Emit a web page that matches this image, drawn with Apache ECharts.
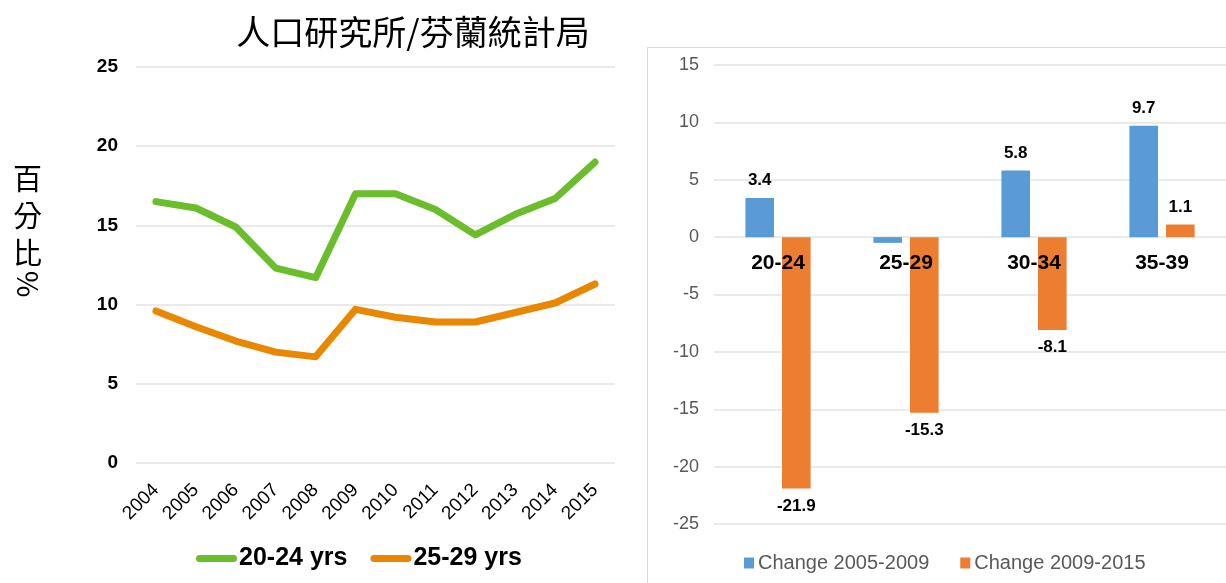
<!DOCTYPE html>
<html>
<head>
<meta charset="utf-8">
<script src="https://cdn.jsdelivr.net/npm/echarts@6/dist/echarts.min.js"></script>
<style>
  html, body { margin: 0; padding: 0; background: #fff; }
  #chart { width: 1226px; height: 583px; }
</style>
</head>
<body>
<div id="chart"></div>
<script>
// left chart: share of age groups (%)
const years = ['2004', '2005', '2006', '2007', '2008', '2009', '2010', '2011', '2012', '2013', '2014', '2015']
const age2024 = [16.5, 16.1, 14.9, 12.3, 11.7, 17.0, 17.0, 16.0, 14.4, 15.7, 16.7, 19.0]
const age2529 = [9.6, 8.6, 7.7, 7.0, 6.7, 9.7, 9.2, 8.9, 8.9, 9.5, 10.1, 11.3]

// right chart: change by age group
const groups = ['20-24', '25-29', '30-34', '35-39']
const change0509 = [3.4, -0.5, 5.8, 9.7]
const change0915 = [-21.9, -15.3, -8.1, 1.1]
const hiddenLabels = ['25-29'] // no label on the tiny blue bar

const FONT = '"Liberation Sans", Arial, sans-serif'
const CJK = '"Noto Sans CJK TC", "Noto Sans CJK SC", sans-serif'
// capsule shaped legend mark for the line series
const LINE_ICON = 'path://M3.5,0 L37.5,0 A3.5,3.5 0 0 1 37.5,7 L3.5,7 A3.5,3.5 0 0 1 3.5,0 Z'

const chart = echarts.init(document.getElementById('chart'))

const barLabel = {
  show: true,
  position: 'outside',
  distance: 9,
  color: '#000',
  fontFamily: FONT,
  fontWeight: 'bold',
  fontSize: 17,
  formatter: p => p.value.toFixed(1)
}

const option = {
  animation: false,
  backgroundColor: '#fff',
  title: {
    text: '人口研究所/芬蘭統計局',
    left: 408,
    top: 10,
    textAlign: 'center',
    textStyle: { fontFamily: CJK, fontWeight: 'normal', fontSize: 34, color: '#000' }
  },
  graphic: [
    {
      type: 'rect',
      shape: { x: 647.5, y: 47.5, width: 700, height: 700 },
      style: { fill: 'none', stroke: '#D9D9D9', lineWidth: 1 },
      z: -1
    },
    {
      type: 'text',
      left: 13,
      top: 160,
      style: { text: '百\n分\n比', font: '29px ' + CJK, lineHeight: 37, fill: '#000' }
    },
    {
      type: 'text',
      x: 28,
      y: 284,
      rotation: -Math.PI / 2,
      style: { text: '%', font: '29px ' + CJK, fill: '#000', align: 'center', verticalAlign: 'middle' }
    }
  ],
  legend: [
    {
      data: ['20-24 yrs', '25-29 yrs'],
      left: 196,
      top: 546,
      padding: 0,
      icon: LINE_ICON,
      itemWidth: 41,
      itemHeight: 7,
      itemGap: 23,
      textStyle: { fontFamily: FONT, fontWeight: 'bold', fontSize: 25, color: '#000', padding: [0, 0, 0, -3] }
    },
    {
      data: ['Change 2005-2009', 'Change 2009-2015'],
      left: 744,
      top: 553,
      padding: 0,
      icon: 'rect',
      itemWidth: 10,
      itemHeight: 11,
      itemGap: 31,
      textStyle: { fontFamily: FONT, fontSize: 20, color: '#595959', padding: [0, 0, 0, -1] }
    }
  ],
  grid: [
    { left: 136, right: 611, top: 67, bottom: 120 },
    { left: 714, right: -2, top: 65, bottom: 59 }
  ],
  xAxis: [
    {
      type: 'category',
      gridIndex: 0,
      data: years,
      axisLine: { show: false },
      axisTick: { show: false },
      axisLabel: { rotate: 45, margin: 24, fontFamily: FONT, fontSize: 19, color: '#000' }
    },
    {
      type: 'category',
      gridIndex: 1,
      data: groups,
      z: 10,
      // axis sits at bottom; shift it up to the zero line
      offset: -286.5,
      axisLine: { show: false, onZero: false },
      axisTick: { show: false },
      axisLabel: { margin: 15, fontFamily: FONT, fontWeight: 'bold', fontSize: 21, color: '#000' }
    }
  ],
  yAxis: [
    {
      type: 'value',
      gridIndex: 0,
      min: 0,
      max: 25,
      interval: 5,
      axisLine: { show: false },
      axisTick: { show: false },
      splitLine: { lineStyle: { color: '#E3E3E3', width: 1.5 } },
      axisLabel: { margin: 18, fontFamily: FONT, fontWeight: 'bold', fontSize: 19, color: '#000' }
    },
    {
      type: 'value',
      gridIndex: 1,
      min: -25,
      max: 15,
      interval: 5,
      axisLine: { show: false },
      axisTick: { show: false },
      splitLine: { lineStyle: { color: '#E3E3E3', width: 1.5 } },
      axisLabel: { margin: 15, fontFamily: FONT, fontSize: 18, color: '#595959' }
    }
  ],
  series: [
    {
      name: '20-24 yrs',
      type: 'line',
      xAxisIndex: 0,
      yAxisIndex: 0,
      data: age2024,
      symbol: 'none',
      color: '#6ABD2B',
      lineStyle: { width: 7, cap: 'round', join: 'round' }
    },
    {
      name: '25-29 yrs',
      type: 'line',
      xAxisIndex: 0,
      yAxisIndex: 0,
      data: age2529,
      symbol: 'none',
      color: '#EA8700',
      lineStyle: { width: 7, cap: 'round', join: 'round' }
    },
    {
      name: 'Change 2005-2009',
      type: 'bar',
      xAxisIndex: 1,
      yAxisIndex: 1,
      barWidth: 28.6,
      barGap: '28%',
      color: '#5B9BD5',
      data: change0509.map((v, i) => ({
        value: v,
        label: { show: !hiddenLabels.includes(groups[i]) }
      })),
      label: barLabel
    },
    {
      name: 'Change 2009-2015',
      type: 'bar',
      xAxisIndex: 1,
      yAxisIndex: 1,
      barWidth: 28.6,
      barGap: '28%',
      color: '#ED7D31',
      data: change0915,
      label: barLabel
    }
  ]
}

chart.setOption(option)
</script>
</body>
</html>
